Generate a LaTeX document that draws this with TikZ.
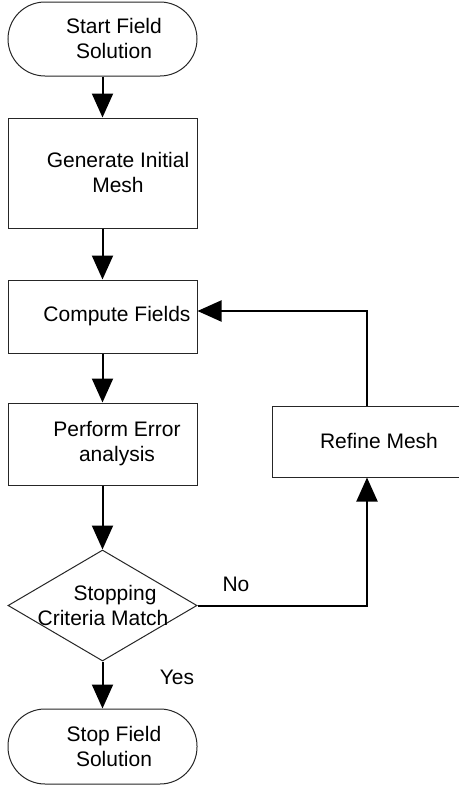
\documentclass[tikz,border=0pt]{standalone}
\usepackage{fontspec}
\setmainfont{Liberation Sans}
\usetikzlibrary{arrows.meta,shapes.geometric}
\begin{document}
\begin{tikzpicture}[x=1pt,y=-1pt,
  box/.style={draw=black!85, line width=1pt, rectangle, inner sep=0pt},
  term/.style={draw=black!85, line width=1pt, rectangle, rounded corners=37pt, inner sep=0pt},
  dec/.style={draw=black!85, line width=1pt, diamond, inner sep=0pt, minimum width=189pt, minimum height=111pt},
  lbl/.style={font=\fontsize{21}{25}\selectfont, align=center, inner sep=0pt},
  conn/.style={line width=2pt, -{Triangle[length=24pt,width=21pt]}}]
\useasboundingbox (0,0) rectangle (458,787);
\fill[white] (0,0) rectangle (458,787);
% shapes
\node[term, minimum width=189pt, minimum height=74pt] (start) at (102.5,39) {};
\node[box, minimum width=189pt, minimum height=110pt] (gen) at (102.5,173) {};
\node[box, minimum width=189pt, minimum height=73pt] (comp) at (102.5,316.5) {};
\node[box, minimum width=189pt, minimum height=82pt] (perf) at (102.5,444) {};
\node[dec] (dia) at (102.5,605.5) {};
\node[term, minimum width=189pt, minimum height=75pt] (stop) at (102.5,746.5) {};
\node[box, minimum width=195pt, minimum height=71pt] (ref) at (369.5,441.5) {};
% texts
\node[lbl] (tstart) at (114,38) {Start Field\\Solution};
\node[lbl] (tgen) at (118,172) {Generate Initial\\Mesh};
\node[lbl] (tcomp) at (117,316) {Compute Fields};
\node[lbl] (tperf) at (117,444) {Perform Error\\analysis};
\node[lbl] (tdia) at (103,605) {\hspace*{24pt}Stopping\\Criteria Match};
\node[lbl] (tstop) at (114,746) {Stop Field\\Solution};
\node[lbl] (tref) at (379,441) {Refine Mesh};
\node[lbl] (tno) at (236,584) {No};
\node[lbl] (tyes) at (177,677) {Yes};
% connectors
\coordinate (lx) at (367,0);
\draw[conn] (start) -- (gen);
\draw[conn] (gen) -- (comp);
\draw[conn] (comp) -- (perf);
\draw[conn] (perf) -- (dia);
\draw[conn] (dia) -- (stop);
\draw[conn] (dia.east) -| (ref.south -| lx);
\draw[conn] (ref.north -| lx) |- ([yshift=5.5pt]comp.east);
\end{tikzpicture}
\end{document}
